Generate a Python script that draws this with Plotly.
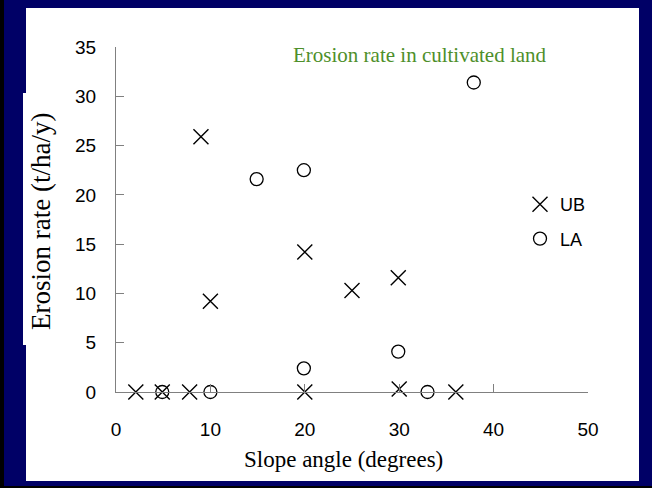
import plotly.graph_objects as go

# Data
ub_x = [2.1, 4.9, 7.8, 9.0, 10.0, 20.0, 20.0, 25.0, 29.9, 30.0, 36.0]
ub_y = [0.0, 0.0, 0.0, 25.9, 9.2, 14.2, 0.0, 10.3, 11.6, 0.3, 0.0]
la_x = [4.9, 10.0, 14.9, 19.9, 19.9, 29.9, 33.0, 37.9]
la_y = [0.0, 0.0, 21.6, 22.5, 2.4, 4.1, 0.0, 31.4]
x_ticks = [0, 10, 20, 30, 40, 50]
y_ticks = [0, 5, 10, 15, 20, 25, 30, 35]

NAVY = "#000066"
AXIS = "#808080"
SANS = "Liberation Sans, Arial, sans-serif"
SERIF = "Liberation Serif, Times New Roman, serif"

L, R, T, B = 116, 588, 47, 392
PW, PH = R - L, B - T


def px(x):
    return (x - L) / PW


def py(y):
    return (B - y) / PH


fig = go.Figure()
fig.add_trace(go.Scatter(
    x=ub_x, y=ub_y, mode="markers", name="UB", legendgroup="ub",
    marker=dict(symbol="x-thin-open", size=15, color="black",
                line=dict(color="black", width=1.4)),
    cliponaxis=False,
))
fig.add_trace(go.Scatter(
    x=la_x, y=la_y, mode="markers", name="LA", legendgroup="la",
    marker=dict(symbol="circle-open", size=13, color="black",
                line=dict(color="black", width=1.3)),
    cliponaxis=False,
))

fig.update_layout(
    width=652, height=488,
    margin=dict(l=L, r=652 - R, t=T, b=488 - B),
    paper_bgcolor=NAVY,
    plot_bgcolor="white",
    showlegend=True,
    legend=dict(x=px(520), y=py(186), xanchor="left", yanchor="top",
                bgcolor="rgba(0,0,0,0)", font=dict(family=SANS, size=18, color="black"),
                tracegroupgap=8, itemwidth=30),
    shapes=[
        dict(type="rect", xref="paper", yref="paper", layer="below",
             x0=px(0), x1=px(652), y0=py(488), y1=py(0),
             fillcolor="black", line=dict(width=0)),
        dict(type="rect", xref="paper", yref="paper", layer="below",
             x0=px(4), x1=px(652), y0=py(486), y1=py(0),
             fillcolor=NAVY, line=dict(width=0)),
        dict(type="rect", xref="paper", yref="paper", layer="below",
             x0=px(26), x1=px(639), y0=py(481), y1=py(8),
             fillcolor="white", line=dict(width=0)),
        dict(type="rect", xref="paper", yref="paper", layer="below",
             x0=px(23), x1=px(30), y0=py(345), y1=py(93),
             fillcolor="white", line=dict(width=0)),
    ],
    annotations=[
        dict(text="Erosion rate in cultivated land", xref="paper", yref="paper",
             x=px(420), y=py(55), showarrow=False, yanchor="middle",
             font=dict(family=SERIF, size=21, color="#4E8F2A")),
        dict(text="Slope angle (degrees)", xref="paper", yref="paper",
             x=px(343), y=py(460), showarrow=False, yanchor="middle",
             font=dict(family=SERIF, size=23, color="black")),
        dict(text="Erosion rate (t/ha/y)", xref="paper", yref="paper",
             x=px(41), y=py(222), showarrow=False, textangle=-90,
             xanchor="center", yanchor="middle",
             font=dict(family=SERIF, size=27, color="black")),
    ],
)

fig.update_xaxes(
    range=[0, 50], tickvals=x_ticks, showgrid=False, zeroline=False,
    showline=True, linecolor=AXIS, linewidth=1.3,
    ticks="inside", ticklen=8, tickcolor=AXIS, tickwidth=1.3,
    tickfont=dict(family=SANS, size=19, color="black"), ticklabelstandoff=20,
)
fig.update_yaxes(
    range=[0, 35], tickvals=y_ticks, showgrid=False, zeroline=False,
    showline=True, linecolor=AXIS, linewidth=1.3,
    ticks="inside", ticklen=8, tickcolor=AXIS, tickwidth=1.3,
    tickfont=dict(family=SANS, size=19, color="black"), ticklabelstandoff=15,
)

fig.write_html("out.html", config={"displayModeBar": False},
               post_script="document.body.style.margin='0';")
